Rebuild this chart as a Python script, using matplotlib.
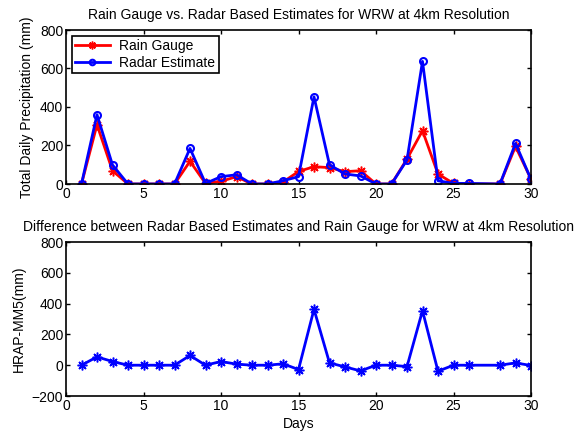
import matplotlib
matplotlib.use("Agg")
import matplotlib.pyplot as plt

plt.rcParams['font.family'] = ['Liberation Sans', 'DejaVu Sans']

days = [1, 2, 3, 4, 5, 6, 7, 8, 9, 10, 11, 12, 13, 14, 15, 16, 17, 18, 19, 20,
        21, 22, 23, 24, 25, 26, 28, 29, 30]
rain_gauge = [0, 308, 69, 0, 0, 0, 0, 118, 3, 14, 38, 0, 0, 10, 65, 90, 85, 64, 69, 0,
              0, 130, 277, 52, 3, 0, 0, 195, 26]
radar_est = [0, 360, 99, 0, 0, 0, 0, 185, 3, 38, 48, 0, 0, 17, 38, 453, 100, 52, 42, 0,
             0, 125, 637, 17, 3, 3, 0, 211, 24]
difference = [0, 54, 24, 0, 0, 0, 0, 63, 0, 24, 7, 0, 0, 9, -28, 363, 15, -11, -37, 0,
              0, -9, 354, -39, 0, 0, 0, 15, -2]

W, H = 576, 436
fig = plt.figure(figsize=(W / 100, H / 100), dpi=100)

def ax_rect(l, t, r, b):
    return [l / W, 1 - b / H, (r - l) / W, (b - t) / H]

ax1 = fig.add_axes(ax_rect(66, 30, 531, 184))
ax2 = fig.add_axes(ax_rect(66, 242, 531, 396))

asterisk = (8, 2, 0)
fs = 10
for ax in (ax1, ax2):
    ax.tick_params(direction='in', top=True, right=True, labelsize=fs, length=3, width=1, pad=2)
    for s in ax.spines.values():
        s.set_linewidth(1.2)
    ax.set_xlim(0, 30)
    ax.set_xticks(range(0, 31, 5))

ax1.plot(days, rain_gauge, color='red', lw=2, marker=asterisk, ms=7, mfc='none', mec='red',
         mew=1.1, label='Rain Gauge')
ax1.plot(days, radar_est, color='blue', lw=2, marker='o', ms=5, mfc='none', mec='blue',
         mew=1.5, label='Radar Estimate')
ax1.set_ylim(0, 800)
ax1.set_yticks(range(0, 801, 200))
ax1.set_ylabel('Total Daily Precipitation (mm)', fontsize=fs, labelpad=4)
ax1.set_title('Rain Gauge vs. Radar Based Estimates for WRW at 4km Resolution', fontsize=fs, pad=8)
leg = ax1.legend(loc='upper left', fontsize=fs, fancybox=False, edgecolor='black',
                 framealpha=1, borderaxespad=0.4, handlelength=2.5, labelspacing=0.2,
                 borderpad=0.25, handletextpad=0.7, markerscale=0.8)
leg.get_frame().set_linewidth(1.2)

ax2.plot(days, difference, color='blue', lw=2, marker=asterisk, ms=7, mfc='none', mec='blue', mew=1.1)
ax2.set_ylim(-200, 800)
ax2.set_yticks(range(-200, 801, 200))
ax2.set_ylabel('HRAP-MM5(mm)', fontsize=fs, labelpad=4)
ax2.set_xlabel('Days', fontsize=fs, labelpad=3)
ax2.set_title('Difference between Radar Based Estimates and Rain Gauge for WRW at 4km Resolution',
              fontsize=fs, pad=8)

fig.savefig('out.png', dpi=100)
